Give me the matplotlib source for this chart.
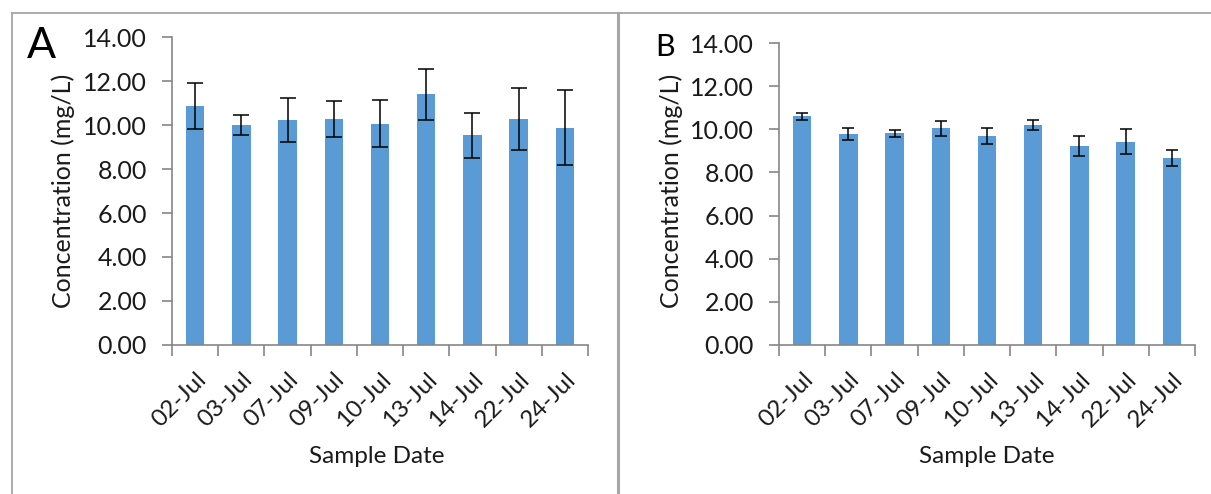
import numpy as np
import matplotlib.pyplot as plt
import matplotlib.transforms as mtransforms
from matplotlib.lines import Line2D

plt.rcParams['font.family'] = ['Lato', 'DejaVu Sans']

dates = ['02-Jul', '03-Jul', '07-Jul', '09-Jul', '10-Jul', '13-Jul', '14-Jul', '22-Jul', '24-Jul']

conc_a = [10.86, 10.00, 10.23, 10.29, 10.06, 11.39, 9.53, 10.29, 9.88]
err_a = [1.05, 0.44, 1.02, 0.82, 1.07, 1.14, 1.01, 1.41, 1.70]

conc_b = [10.60, 9.78, 9.81, 10.05, 9.69, 10.19, 9.21, 9.43, 8.66]
err_b = [0.17, 0.26, 0.18, 0.34, 0.35, 0.22, 0.47, 0.59, 0.38]

yticks = [0, 2, 4, 6, 8, 10, 12, 14]

W, H = 1211, 494
fig = plt.figure(figsize=(W / 100, H / 100), dpi=100)

bar_color = '#5B9BD5'
axis_color = '#868686'
text_color = '#1a1a1a'


def panel(rect, vals, errs, letter, letter_xy, letter_size, ylab_x, xlab_x, capsize):
    ax = fig.add_axes(rect)
    x = np.arange(len(dates))
    ax.bar(x, vals, width=0.4, color=bar_color, zorder=2)
    ax.errorbar(x, vals, yerr=errs, fmt='none', ecolor='black', elinewidth=1.1,
                capsize=capsize, capthick=1.1, zorder=3)
    ax.set_xlim(-0.5, len(dates) - 0.5)
    ax.set_ylim(0, 14)
    ax.set_yticks(yticks)
    ax.set_yticklabels(['%.2f' % v for v in yticks], fontsize=18, color=text_color)
    ax.set_xticks(x)
    ax.set_xticklabels(dates, rotation=45, ha='right', rotation_mode='anchor',
                       fontsize=17.5, color=text_color)
    shift = mtransforms.ScaledTranslation(5 / 100, 0, fig.dpi_scale_trans)
    for lab in ax.get_xticklabels():
        lab.set_transform(lab.get_transform() + shift)
    ax.tick_params(axis='x', length=0, pad=17)
    ax.set_xticks(np.arange(len(dates) + 1) - 0.5, minor=True)
    ax.tick_params(axis='x', which='minor', length=8, color=axis_color, width=1.2)
    ax.tick_params(axis='y', length=7, color=axis_color, width=1.2, pad=11)
    for s in ['top', 'right']:
        ax.spines[s].set_visible(False)
    for s in ['left', 'bottom']:
        ax.spines[s].set_color(axis_color)
        ax.spines[s].set_linewidth(1.2)
    fig.text(ylab_x / W, 1 - 191 / H, 'Concentration (mg/L)', rotation=90,
             ha='center', va='center', fontsize=18, color=text_color)
    fig.text(xlab_x / W, 1 - 456 / H, 'Sample Date', ha='center', va='center',
             fontsize=17.5, color=text_color)
    fig.text(letter_xy[0] / W, 1 - letter_xy[1] / H, letter, ha='left', va='center',
             fontsize=letter_size, color='black')
    return ax


panel([172 / W, 1 - 345 / H, (588 - 172) / W, (345 - 37) / H], conc_a, err_a,
      'A', (27, 46), 31, 63, 377, 5.8)
panel([779 / W, 1 - 345 / H, (1195 - 779) / W, (345 - 43) / H], conc_b, err_b,
      'B', (655, 47), 22, 671, 987, 4.5)

# panel frames
frame = '#A6A6A6'
fig.add_artist(Line2D([12 / W, 12 / W], [0, 1 - 13 / H], color=frame, lw=1.3))
fig.add_artist(Line2D([12 / W, 1], [1 - 13 / H, 1 - 13 / H], color=frame, lw=1.3))
fig.add_artist(Line2D([618 / W, 618 / W], [0, 1 - 13 / H], color=frame, lw=2.2))

fig.savefig('out.png', dpi=100)
